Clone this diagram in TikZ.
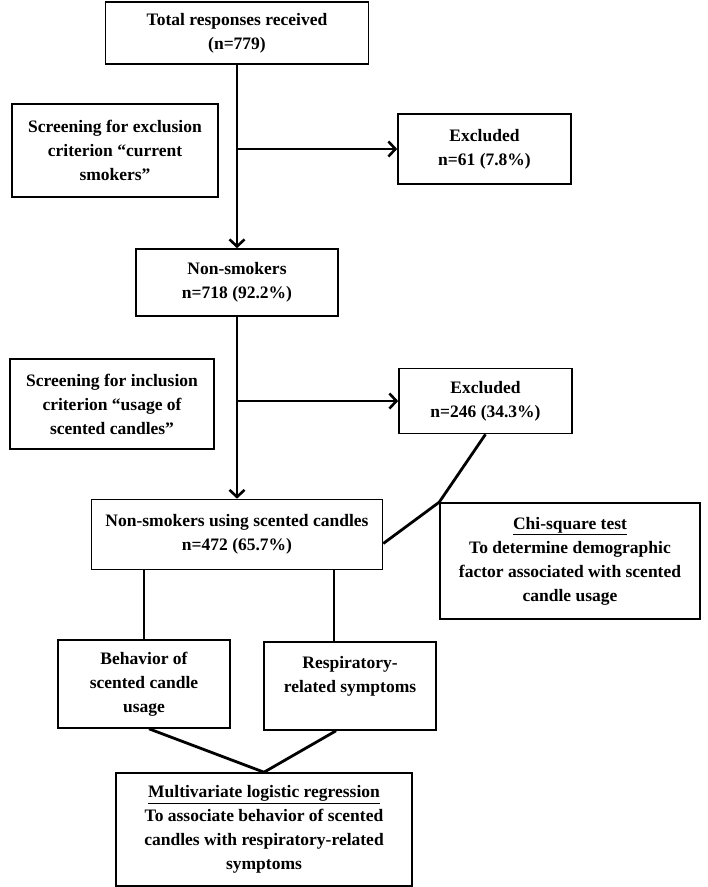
\documentclass[tikz,border=0pt]{standalone}
\usepackage{fontspec}
\setmainfont{Liberation Serif}
\usetikzlibrary{arrows.meta}
\begin{document}
\begin{tikzpicture}[x=1pt,y=1pt,
  box/.style={draw=black,line width=1.6pt,align=center,inner sep=0pt,
    font=\bfseries\fontsize{17.5}{24}\selectfont},
  conn/.style={line width=2.8pt},
  arr/.style={conn,-{Straight Barb[length=7pt,width=15pt,line width=2.6pt]}}]
\useasboundingbox[fill=white] (0,0) rectangle (708,-887);

\node[box,minimum width=263pt,minimum height=62pt] (total) at (237,-33) {Total responses received\\(n=779)};
\node[box,minimum width=206pt,minimum height=93pt] (scr1) at (115,-150.5) {Screening for exclusion\\criterion “current\\smokers”};
\node[box,minimum width=173pt,minimum height=70pt] (exc1) at (484.5,-149) {Excluded\\n=61 (7.8\%)};
\node[box,minimum width=202pt,minimum height=67pt] (nons) at (237,-282.5) {Non-smokers\\n=718 (92.2\%)};
\node[box,minimum width=204pt,minimum height=90pt] (scr2) at (112,-404) {Screening for inclusion\\criterion “usage of\\scented candles”};
\node[box,minimum width=173pt,minimum height=65pt] (exc2) at (485.5,-401) {Excluded\\n=246 (34.3\%)};
\node[box,minimum width=291pt,minimum height=70pt] (box3) at (237,-534.5) {Non-smokers using scented candles\\n=472 (65.7\%)};
\node[box,minimum width=260pt,minimum height=116pt] (chi) at (570,-561) {\underline{Chi-square test}\\To determine demographic\\factor associated with scented\\candle usage};
\node[box,minimum width=172pt,minimum height=88pt] (beh) at (144,-684) {Behavior of\\scented candle\\usage};
\node[box,minimum width=172pt,minimum height=88pt] (resp) at (350,-686) {Respiratory-\\related symptoms\\~};
\node[box,minimum width=296pt,minimum height=113pt] (multi) at (264,-829.5) {\underline{Multivariate logistic regression}\\To associate behavior of scented\\candles with respiratory-related\\symptoms};

\draw[arr] (total.south) -- (nons.north);
\draw[arr] (total.south |- exc1.west) -- (exc1.west);
\draw[arr] (nons.south) -- (box3.north);
\draw[arr] (nons.south |- exc2.west) -- (exc2.west);
\draw[conn] (exc2.south) -- (chi.north west) -- ([yshift=-9pt]box3.east);
\draw[conn] (beh.north |- box3.south) -- (beh.north);
\draw[conn] ([xshift=-16pt]resp.north |- box3.south) -- ([xshift=-16pt]resp.north);
\draw[conn] ([xshift=5pt]beh.south) -- (multi.north) -- ([xshift=-14pt]resp.south);
\end{tikzpicture}
\end{document}
